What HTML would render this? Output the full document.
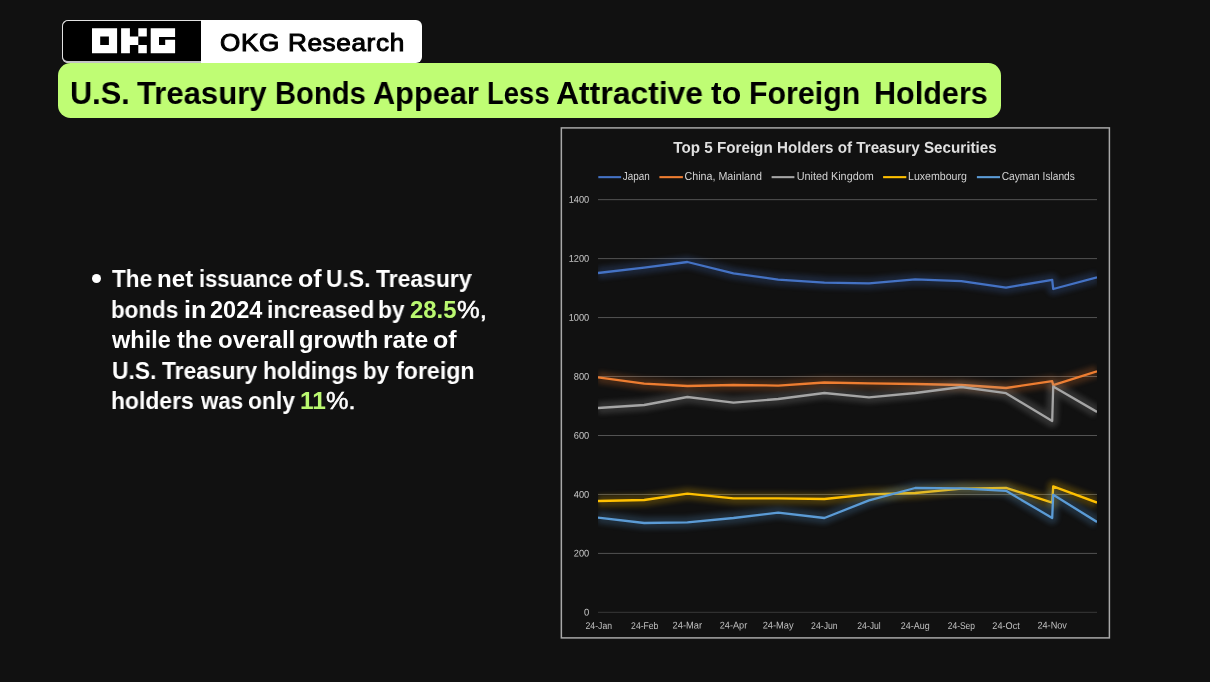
<!DOCTYPE html>
<html>
<head>
<meta charset="utf-8">
<title>OKG Research</title>
<style>
html,body{margin:0;padding:0;}
body{width:1210px;height:682px;background:#111111;overflow:hidden;position:relative;font-family:"Liberation Sans",sans-serif;}
.abs{position:absolute;}
.t{position:absolute;white-space:nowrap;transform-origin:0 0;line-height:1;will-change:transform;}
#logo{left:62px;top:19.8px;width:360.3px;height:43px;background:#fff;border-radius:6px;overflow:hidden;}
#logoblk{left:0;top:0;width:139px;height:43px;background:#000;border:1.6px solid #e2e2e2;border-bottom:2px solid #c4c4c4;border-right:none;border-radius:6px 0 0 6px;box-sizing:border-box;}
#bar{left:57.9px;top:63.3px;width:942.8px;height:55px;background:#bffd74;border-radius:12.5px;}
.tw{top:77px;font-size:32px;font-weight:bold;color:#000;}
.body{font-weight:bold;color:#fff;font-size:23.5px;}
.g{color:#baf870;}
.p{font-weight:normal;-webkit-text-stroke:0.5px #fff;}
</style>
</head>
<body>
<div id="logo" class="abs">
  <div id="logoblk" class="abs"></div>
  <svg class="abs" style="left:0;top:0.4px" width="140" height="43" viewBox="62 20 140 43">
    <g fill="#fff">
      <path d="M92 28.2h25.1v25H92z M100.2 36.6v8.4h8.7v-8.4z" fill-rule="evenodd"/>
      <path d="M121.1 28.2h8.8v8.4h8.4v8.4h-8.4v8.2h-8.8z M138.3 28.2h8.5v8.4h-8.5z M138.3 45h8.5v8.2h-8.5z"/>
      <path d="M150.7 28.2h24.4v8.7h-16.1v8.1h6.2v-5.2h9.9v13.4h-24.4z"/>
    </g>
  </svg>
</div>
<div class="t" id="okg" style="left:219.9px;top:31.1px;font-size:24.8px;letter-spacing:0.6px;transform:scaleX(1.054);font-weight:normal;-webkit-text-stroke:1px #000;color:#000;">OKG Research</div>

<div id="bar" class="abs"></div>
<div id="title">
<div class="t tw" style="left:70.48px;transform:scaleX(0.9603);">U.S.</div>
<div class="t tw" style="left:137.40px;transform:scaleX(0.9707);">Treasury</div>
<div class="t tw" style="left:275.48px;transform:scaleX(0.9125);">Bonds</div>
<div class="t tw" style="left:372.64px;transform:scaleX(0.9606);">Appear</div>
<div class="t tw" style="left:486.59px;transform:scaleX(0.8571);">Less</div>
<div class="t tw" style="left:555.50px;transform:scaleX(0.9959);">Attractive</div>
<div class="t tw" style="left:710.50px;transform:scaleX(0.9862);">to</div>
<div class="t tw" style="left:748.80px;transform:scaleX(0.9487);">Foreign</div>
<div class="t tw" style="left:874.49px;transform:scaleX(0.9552);">Holders</div>
</div>

<div class="abs" style="left:92.3px;top:274.1px;width:9px;height:9px;border-radius:50%;background:#fff;"></div>
<div class="t body" style="left:112.40px;top:268.16px;transform:scaleX(0.9610);">The</div>
<div class="t body" style="left:156.65px;top:268.16px;transform:scaleX(1.0273);">net</div>
<div class="t body" style="left:198.64px;top:268.16px;transform:scaleX(0.9316);">issuance</div>
<div class="t body" style="left:298.04px;top:268.16px;transform:scaleX(1.0619);">of</div>
<div class="t body" style="left:326.23px;top:268.16px;transform:scaleX(0.9721);">U.S.</div>
<div class="t body" style="left:376.00px;top:268.16px;transform:scaleX(0.9745);">Treasury</div>
<div class="t body" style="left:110.99px;top:298.71px;transform:scaleX(0.9529);">bonds</div>
<div class="t body" style="left:183.86px;top:298.71px;transform:scaleX(1.0706);">in</div>
<div class="t body" style="left:209.80px;top:298.71px;transform:scaleX(0.9980);">2024</div>
<div class="t body" style="left:266.75px;top:298.71px;transform:scaleX(0.9774);">increased</div>
<div class="t body" style="left:378.46px;top:298.71px;transform:scaleX(0.9720);">by</div>
<div class="t body g" style="left:410.48px;top:298.71px;transform:scaleX(1.0159);">28.5</div>
<div class="t body p" style="left:457.01px;top:298.71px;transform:scaleX(1.0880);">%,</div>
<div class="t body" style="left:112.40px;top:329.21px;transform:scaleX(0.9983);">while</div>
<div class="t body" style="left:176.90px;top:329.21px;transform:scaleX(0.9914);">the</div>
<div class="t body" style="left:217.98px;top:329.21px;transform:scaleX(1.0192);">overall</div>
<div class="t body" style="left:298.89px;top:329.21px;transform:scaleX(1.0118);">growth</div>
<div class="t body" style="left:382.90px;top:329.21px;transform:scaleX(1.0475);">rate</div>
<div class="t body" style="left:432.74px;top:329.21px;transform:scaleX(1.0619);">of</div>
<div class="t body" style="left:111.93px;top:359.76px;transform:scaleX(0.9698);">U.S.</div>
<div class="t body" style="left:162.00px;top:359.76px;transform:scaleX(0.9704);">Treasury</div>
<div class="t body" style="left:262.97px;top:359.76px;transform:scaleX(0.9663);">holdings</div>
<div class="t body" style="left:363.30px;top:359.76px;transform:scaleX(0.9520);">by</div>
<div class="t body" style="left:395.70px;top:359.76px;transform:scaleX(0.9859);">foreign</div>
<div class="t body" style="left:111.25px;top:390.41px;transform:scaleX(0.9744);">holders</div>
<div class="t body" style="left:200.60px;top:390.41px;transform:scaleX(0.9488);">was</div>
<div class="t body" style="left:247.53px;top:390.41px;transform:scaleX(0.9702);">only</div>
<div class="t body g" style="left:300.22px;top:390.41px;transform:scaleX(1.0409);">11</div>
<div class="t body p" style="left:326.32px;top:390.41px;transform:scaleX(1.0750);">%.</div>

<svg class="abs" style="left:0;top:0;will-change:transform" width="1210" height="682" viewBox="0 0 1210 682" font-family="Liberation Sans, sans-serif">
<defs><filter id="gl" x="560" y="180" width="560" height="460" filterUnits="userSpaceOnUse"><feGaussianBlur stdDeviation="2.8"/></filter><clipPath id="pc"><rect x="598" y="185" width="499" height="440"/></clipPath></defs>
<rect x="561.35" y="127.9" width="548.05" height="510" fill="none" stroke="#a8a8a8" stroke-width="1.5"/>
<rect x="598" y="199.15" width="499" height="1" fill="#535353"/>
<rect x="598" y="258.10" width="499" height="1" fill="#535353"/>
<rect x="598" y="317.05" width="499" height="1" fill="#535353"/>
<rect x="598" y="376.00" width="499" height="1" fill="#535353"/>
<rect x="598" y="435.00" width="499" height="1" fill="#535353"/>
<rect x="598" y="493.95" width="499" height="1" fill="#535353"/>
<rect x="598" y="552.90" width="499" height="1" fill="#535353"/>
<rect x="598" y="611.80" width="499" height="1" fill="#383838"/>
<g clip-path="url(#pc)"><polyline points="598.0,273.0 644.2,267.6 687.4,262.0 733.5,273.4 778.2,279.6 824.4,282.6 869.0,283.4 915.2,279.4 961.4,281.2 1006.0,287.6 1052.2,279.8 1053.2,289.0 1097.0,277.4" fill="none" stroke="#4472c4" stroke-width="12" stroke-linejoin="round" opacity="0.22" filter="url(#gl)"/><polyline points="598.0,273.0 644.2,267.6 687.4,262.0 733.5,273.4 778.2,279.6 824.4,282.6 869.0,283.4 915.2,279.4 961.4,281.2 1006.0,287.6 1052.2,279.8 1053.2,289.0 1097.0,277.4" fill="none" stroke="#4472c4" stroke-width="2.3" stroke-linejoin="round"/></g>
<g clip-path="url(#pc)"><polyline points="598.0,377.4 644.2,383.6 687.4,386.0 733.5,385.0 778.2,385.6 824.4,382.5 869.0,383.4 915.2,384.0 961.4,385.0 1006.0,388.0 1052.2,381.2 1053.2,385.2 1097.0,371.3" fill="none" stroke="#ed7d31" stroke-width="12" stroke-linejoin="round" opacity="0.22" filter="url(#gl)"/><polyline points="598.0,377.4 644.2,383.6 687.4,386.0 733.5,385.0 778.2,385.6 824.4,382.5 869.0,383.4 915.2,384.0 961.4,385.0 1006.0,388.0 1052.2,381.2 1053.2,385.2 1097.0,371.3" fill="none" stroke="#ed7d31" stroke-width="2.3" stroke-linejoin="round"/></g>
<g clip-path="url(#pc)"><polyline points="598.0,408.0 644.2,405.0 687.4,397.0 733.5,402.6 778.2,399.0 824.4,393.0 869.0,397.4 915.2,393.0 961.4,387.0 1006.0,393.2 1052.2,421.0 1053.2,386.5 1097.0,411.9" fill="none" stroke="#a5a5a5" stroke-width="12" stroke-linejoin="round" opacity="0.22" filter="url(#gl)"/><polyline points="598.0,408.0 644.2,405.0 687.4,397.0 733.5,402.6 778.2,399.0 824.4,393.0 869.0,397.4 915.2,393.0 961.4,387.0 1006.0,393.2 1052.2,421.0 1053.2,386.5 1097.0,411.9" fill="none" stroke="#a5a5a5" stroke-width="2.3" stroke-linejoin="round"/></g>
<g clip-path="url(#pc)"><polyline points="598.0,501.0 644.2,500.0 687.4,493.6 733.5,498.4 778.2,498.4 824.4,499.0 869.0,494.4 915.2,493.0 961.4,488.6 1006.0,487.8 1052.2,502.6 1053.2,486.4 1097.0,502.6" fill="none" stroke="#ffc000" stroke-width="12" stroke-linejoin="round" opacity="0.22" filter="url(#gl)"/><polyline points="598.0,501.0 644.2,500.0 687.4,493.6 733.5,498.4 778.2,498.4 824.4,499.0 869.0,494.4 915.2,493.0 961.4,488.6 1006.0,487.8 1052.2,502.6 1053.2,486.4 1097.0,502.6" fill="none" stroke="#ffc000" stroke-width="2.3" stroke-linejoin="round"/></g>
<g clip-path="url(#pc)"><polyline points="598.0,517.6 644.2,523.0 687.4,522.4 733.5,518.0 778.2,512.6 824.4,518.0 869.0,500.4 915.2,488.0 961.4,488.4 1006.0,490.8 1052.2,518.0 1053.2,494.8 1097.0,521.9" fill="none" stroke="#5b9bd5" stroke-width="12" stroke-linejoin="round" opacity="0.22" filter="url(#gl)"/><polyline points="598.0,517.6 644.2,523.0 687.4,522.4 733.5,518.0 778.2,512.6 824.4,518.0 869.0,500.4 915.2,488.0 961.4,488.4 1006.0,490.8 1052.2,518.0 1053.2,494.8 1097.0,521.9" fill="none" stroke="#5b9bd5" stroke-width="2.3" stroke-linejoin="round"/></g>
<text transform="translate(589.20 202.85) rotate(0.03)" font-size="9.7" fill="#c8c8c8" text-anchor="end" textLength="20.5" lengthAdjust="spacingAndGlyphs">1400</text>
<text transform="translate(589.20 261.80) rotate(0.03)" font-size="9.7" fill="#c8c8c8" text-anchor="end" textLength="20.5" lengthAdjust="spacingAndGlyphs">1200</text>
<text transform="translate(589.20 320.75) rotate(0.03)" font-size="9.7" fill="#c8c8c8" text-anchor="end" textLength="20.5" lengthAdjust="spacingAndGlyphs">1000</text>
<text transform="translate(589.20 379.70) rotate(0.03)" font-size="9.7" fill="#c8c8c8" text-anchor="end" textLength="15.4" lengthAdjust="spacingAndGlyphs">800</text>
<text transform="translate(589.20 438.70) rotate(0.03)" font-size="9.7" fill="#c8c8c8" text-anchor="end" textLength="15.4" lengthAdjust="spacingAndGlyphs">600</text>
<text transform="translate(589.20 497.65) rotate(0.03)" font-size="9.7" fill="#c8c8c8" text-anchor="end" textLength="15.4" lengthAdjust="spacingAndGlyphs">400</text>
<text transform="translate(589.20 556.60) rotate(0.03)" font-size="9.7" fill="#c8c8c8" text-anchor="end" textLength="15.4" lengthAdjust="spacingAndGlyphs">200</text>
<text transform="translate(589.20 615.50) rotate(0.03)" font-size="9.7" fill="#c8c8c8" text-anchor="end" textLength="5.2" lengthAdjust="spacingAndGlyphs">0</text>
<text transform="translate(585.55 628.50) rotate(0.03)" font-size="9.8" fill="#c0c0c0" textLength="26.5" lengthAdjust="spacingAndGlyphs">24-Jan</text>
<text transform="translate(631.11 628.50) rotate(0.03)" font-size="9.8" fill="#c0c0c0" textLength="27.3" lengthAdjust="spacingAndGlyphs">24-Feb</text>
<text transform="translate(672.60 628.50) rotate(0.03)" font-size="9.8" fill="#c0c0c0" textLength="29.5" lengthAdjust="spacingAndGlyphs">24-Mar</text>
<text transform="translate(719.77 628.50) rotate(0.03)" font-size="9.8" fill="#c0c0c0" textLength="27.5" lengthAdjust="spacingAndGlyphs">24-Apr</text>
<text transform="translate(762.69 628.50) rotate(0.03)" font-size="9.8" fill="#c0c0c0" textLength="31.0" lengthAdjust="spacingAndGlyphs">24-May</text>
<text transform="translate(811.11 628.50) rotate(0.03)" font-size="9.8" fill="#c0c0c0" textLength="26.5" lengthAdjust="spacingAndGlyphs">24-Jun</text>
<text transform="translate(857.28 628.50) rotate(0.03)" font-size="9.8" fill="#c0c0c0" textLength="23.5" lengthAdjust="spacingAndGlyphs">24-Jul</text>
<text transform="translate(900.80 628.50) rotate(0.03)" font-size="9.8" fill="#c0c0c0" textLength="28.8" lengthAdjust="spacingAndGlyphs">24-Aug</text>
<text transform="translate(947.76 628.50) rotate(0.03)" font-size="9.8" fill="#c0c0c0" textLength="27.2" lengthAdjust="spacingAndGlyphs">24-Sep</text>
<text transform="translate(992.34 628.50) rotate(0.03)" font-size="9.8" fill="#c0c0c0" textLength="27.4" lengthAdjust="spacingAndGlyphs">24-Oct</text>
<text transform="translate(1037.45 628.50) rotate(0.03)" font-size="9.8" fill="#c0c0c0" textLength="29.5" lengthAdjust="spacingAndGlyphs">24-Nov</text>
<text transform="translate(673.30 152.70) rotate(0.03)" font-size="15.7" fill="#e0e0e0" font-weight="bold" textLength="323.3" lengthAdjust="spacingAndGlyphs">Top 5 Foreign Holders of Treasury Securities</text>
<rect x="598.3" y="176.1" width="22.8" height="2.1" fill="#4472c4"/>
<text transform="translate(622.80 180.00) rotate(0.03)" font-size="11.5" fill="#d2d2d2" textLength="27.0" lengthAdjust="spacingAndGlyphs">Japan</text>
<rect x="659.4" y="176.1" width="23.5" height="2.1" fill="#ed7d31"/>
<text transform="translate(684.50 180.00) rotate(0.03)" font-size="11.5" fill="#d2d2d2" textLength="77.4" lengthAdjust="spacingAndGlyphs">China, Mainland</text>
<rect x="771.6" y="176.1" width="22.8" height="2.1" fill="#a5a5a5"/>
<text transform="translate(796.70 180.00) rotate(0.03)" font-size="11.5" fill="#d2d2d2" textLength="77.0" lengthAdjust="spacingAndGlyphs">United Kingdom</text>
<rect x="883.1" y="176.1" width="23.2" height="2.1" fill="#ffc000"/>
<text transform="translate(908.00 180.00) rotate(0.03)" font-size="11.5" fill="#d2d2d2" textLength="58.9" lengthAdjust="spacingAndGlyphs">Luxembourg</text>
<rect x="976.9" y="176.1" width="23.1" height="2.1" fill="#5b9bd5"/>
<text transform="translate(1001.70 180.00) rotate(0.03)" font-size="11.5" fill="#d2d2d2" textLength="73.2" lengthAdjust="spacingAndGlyphs">Cayman Islands</text>
</svg>
</body>
</html>
